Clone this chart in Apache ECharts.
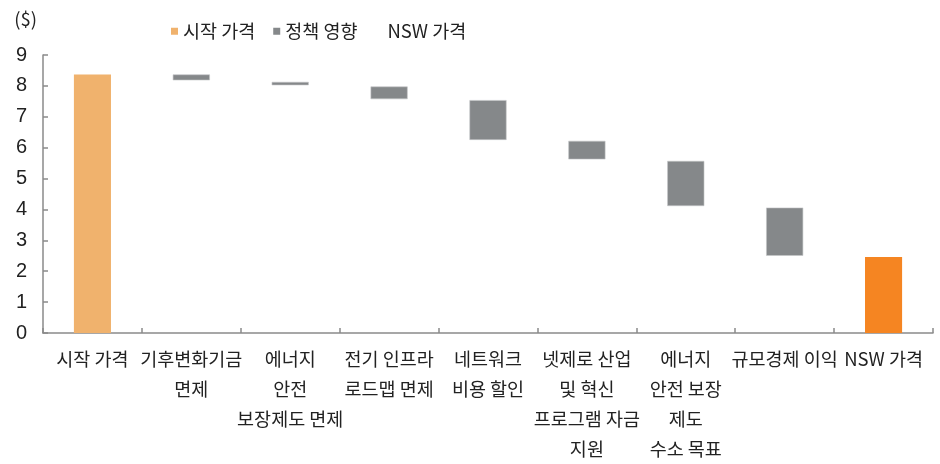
<!DOCTYPE html>
<html>
<head>
<meta charset="utf-8">
<script src="https://cdn.jsdelivr.net/npm/echarts@6/dist/echarts.min.js"></script>
<style>
  html, body { margin: 0; padding: 0; background: #fff; }
  #chart { width: 940px; height: 464px; }
</style>
</head>
<body>
<div id="chart"></div>
<script>
// Waterfall of electricity price components ($)
const categories = [
  '시작 가격',
  '기후변화기금\n면제',
  '에너지\n안전\n보장제도 면제',
  '전기 인프라\n로드맵 면제',
  '네트워크\n비용 할인',
  '넷제로 산업\n및 혁신\n프로그램 자금\n지원',
  '에너지\n안전 보장\n제도\n수소 목표',
  '규모경제 이익',
  'NSW 가격'
];
const startPrice = 8.37;
const endPrice = 2.46;
// policy effect bars: top and bottom of each floating bar (categories 2..8)
const policyTop    = [8.37, 8.13, 7.98, 7.54, 6.22, 5.57, 4.06];
const policyBottom = [8.18, 8.02, 7.57, 6.25, 5.62, 4.11, 2.50];
const yTicks = [0, 1, 2, 3, 4, 5, 6, 7, 8, 9];

const n = categories.length;
const baseData = [], startData = [], policyData = [], endData = [];
for (let i = 0; i < n; i++) {
  baseData.push('-'); startData.push('-'); policyData.push('-'); endData.push('-');
}
startData[0] = startPrice;
baseData[0] = 0;
policyTop.forEach((t, k) => {
  const i = k + 1;
  baseData[i] = policyBottom[k];
  policyData[i] = +(t - policyBottom[k]).toFixed(4);
});
baseData[n - 1] = 0;
endData[n - 1] = endPrice;

const FONT = '"Noto Sans CJK KR", "Noto Sans", sans-serif';
const chart = echarts.init(document.getElementById('chart'), null, { renderer: 'canvas' });
chart.setOption({
  animation: false,
  backgroundColor: '#ffffff',
  grid: { left: 43, right: 7, top: 55, bottom: 128, containLabel: false },
  legend: {
    left: 166,
    top: 17,
    itemWidth: 7,
    itemHeight: 7,
    itemGap: 18,
    textStyle: { fontFamily: FONT, fontSize: 18.5, color: '#222' },
    data: [
      { name: '시작 가격', icon: 'rect', itemStyle: { borderWidth: 0 } },
      { name: '정책 영향', icon: 'rect', itemStyle: { borderWidth: 0 } },
      { name: 'NSW 가격', icon: 'rect', itemStyle: { opacity: 0, borderWidth: 0 } }
    ]
  },
  xAxis: {
    type: 'category',
    data: categories,
    axisLine: { lineStyle: { color: '#8a8a8a', width: 1.5 } },
    axisTick: { show: true, inside: true, length: 5, alignWithLabel: false, lineStyle: { color: '#8a8a8a', width: 1.5 } },
    axisLabel: {
      interval: 0,
      hideOverlap: false,
      margin: 11,
      fontFamily: FONT,
      fontSize: 18.5,
      lineHeight: 30,
      color: '#222'
    }
  },
  yAxis: {
    type: 'value',
    min: yTicks[0],
    max: yTicks[yTicks.length - 1],
    interval: 1,
    name: '($)',
    nameLocation: 'end',
    nameGap: 27,
    nameTextStyle: { fontFamily: FONT, fontSize: 18.5, color: '#222', align: 'right', padding: [0, 6, 0, 0] },
    axisLine: { show: true, lineStyle: { color: '#8a8a8a', width: 1.5 } },
    axisTick: { show: true, inside: true, length: 5, lineStyle: { color: '#8a8a8a', width: 1.5 } },
    splitLine: { show: false },
    axisLabel: { margin: 16, fontFamily: '"Liberation Sans", Arial, sans-serif', fontSize: 20, color: '#222' }
  },
  series: [
    {
      name: 'base', type: 'bar', stack: 'w', data: baseData, barWidth: '37.5%',
      itemStyle: { color: 'rgba(0,0,0,0)' }, silent: true
    },
    {
      name: '시작 가격', type: 'bar', stack: 'w', data: startData, barWidth: '37.5%',
      itemStyle: { color: '#F0B26D' }
    },
    {
      name: '정책 영향', type: 'bar', stack: 'w', data: policyData, barWidth: '37.5%',
      itemStyle: { color: '#85888A', borderColor: '#c4c6c8', borderWidth: 0.6 }
    },
    {
      name: 'NSW 가격', type: 'bar', stack: 'w', data: endData, barWidth: '37.5%',
      itemStyle: { color: '#F58522' }
    }
  ]
});
</script>
</body>
</html>
